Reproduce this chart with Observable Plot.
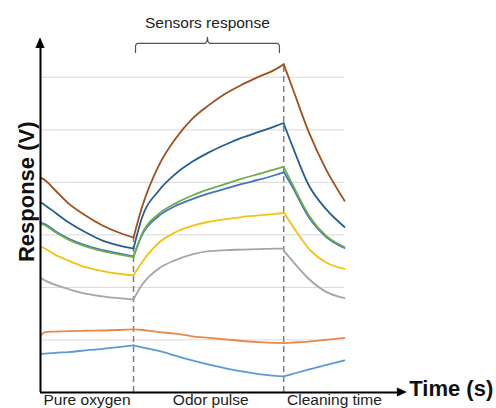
<!DOCTYPE html>
<html><head><meta charset="utf-8">
<script src="https://cdn.jsdelivr.net/npm/d3@7"></script>
<script src="https://cdn.jsdelivr.net/npm/@observablehq/plot@0.6"></script>
<style>body{margin:0;background:#fff;} #chart svg{display:block}</style>
</head><body><div id="chart"></div>
<script>
// Phase time points (arbitrary time units, 0..100)
const phaseTimes = [
  [0, 1.6, 4.9, 9.2, 14.8, 20.4, 25.7, 30.6],
  [30.6, 33.4, 38.9, 44.4, 49.9, 55.4, 60.9, 66.3, 71.8, 77.3, 80],
  [80, 82.8, 88.3, 93.8, 100]
];
const phaseNames = ["Pure oxygen", "Odor pulse", "Cleaning time"];
const phaseLabelT = [15.3, 56, 96.7];
const bracketT = [31.25, 54.9, 78.6];
const gridValues = [1, 2, 3, 4, 5, 6];
const yMax = 6.7;
const xArrowEnd = 120.7;

const seriesNames = ["S1", "S2", "S3", "S4", "S5", "S6", "S7", "S8"];
const seriesColors = ["#e8894a", "#5b9bd5", "#a5a5a5", "#f2c314", "#4472c4", "#70ad47", "#255e91", "#9e4f1e"];

// Values (V) per phase
const s1 = [ // orange
  [1.085, 1.15, 1.16, 1.17, 1.175, 1.18, 1.19, 1.20],
  [1.20, 1.19, 1.15, 1.12, 1.07, 1.04, 1.01, 0.98, 0.96, 0.945, 0.94],
  [0.94, 0.95, 0.97, 1.00, 1.04]
];
const s2 = [ // light blue
  [0.735, 0.74, 0.755, 0.77, 0.80, 0.83, 0.865, 0.895],
  [0.895, 0.86, 0.79, 0.70, 0.61, 0.53, 0.46, 0.40, 0.35, 0.315, 0.305],
  [0.305, 0.35, 0.44, 0.52, 0.61]
];
const s3 = [ // gray
  [2.19, 2.13, 2.05, 1.97, 1.88, 1.83, 1.795, 1.77],
  [1.77, 2.05, 2.36, 2.52, 2.63, 2.69, 2.71, 2.72, 2.73, 2.74, 2.74],
  [2.70, 2.51, 2.16, 1.92, 1.795]
];
const s4 = [ // yellow
  [2.78, 2.735, 2.62, 2.51, 2.385, 2.31, 2.26, 2.23],
  [2.23, 2.48, 2.85, 3.05, 3.17, 3.25, 3.30, 3.34, 3.37, 3.40, 3.42],
  [3.43, 3.18, 2.735, 2.48, 2.355]
];
const s5 = [ // blue
  [3.24, 3.20, 3.07, 2.93, 2.80, 2.71, 2.65, 2.59],
  [2.59, 3.00, 3.36, 3.55, 3.68, 3.79, 3.88, 3.97, 4.05, 4.14, 4.19],
  [4.20, 3.92, 3.33, 2.97, 2.75]
];
const s6 = [ // green
  [3.22, 3.18, 3.05, 2.91, 2.78, 2.69, 2.63, 2.575],
  [2.575, 3.02, 3.40, 3.60, 3.75, 3.87, 3.97, 4.07, 4.16, 4.25, 4.30],
  [4.29, 3.97, 3.37, 2.99, 2.77]
];
const s7 = [ // dark blue
  [3.62, 3.56, 3.42, 3.24, 3.05, 2.89, 2.80, 2.74],
  [2.74, 3.33, 3.84, 4.16, 4.39, 4.57, 4.72, 4.85, 4.96, 5.07, 5.13],
  [5.12, 4.70, 3.94, 3.50, 3.15]
];
const s8 = [ // brown
  [4.09, 4.035, 3.845, 3.60, 3.37, 3.18, 3.045, 2.95],
  [2.95, 3.53, 4.32, 4.83, 5.21, 5.47, 5.69, 5.86, 6.01, 6.15, 6.25],
  [6.25, 5.81, 4.95, 4.26, 3.65]
];
const allSeries = [s1, s2, s3, s4, s5, s6, s7, s8];

const rows = [];
allSeries.forEach((vals, si) => {
  vals.forEach((arr, p) => {
    arr.forEach((v, i) => rows.push({series: seriesNames[si], key: seriesNames[si] + "-" + p, t: phaseTimes[p][i], v}));
  });
});

// dashed phase boundaries up to the top curve
const boundaries = [phaseTimes[1][0], phaseTimes[2][0]].map(t => ({
  t, top: d3.max(rows.filter(r => r.t === t), r => r.v)
}));

// bracket over the odor phase
const [bl, bm, br] = bracketT;
const bracket = [
  {t: bl, v: 6.47}, {t: bl, v: 6.60}, {t: bl + 0.3, v: 6.635}, {t: bl + 0.8, v: 6.645},
  {t: bm - 0.7, v: 6.645}, {t: bm - 0.2, v: 6.68}, {t: bm, v: 6.76},
  {t: bm + 0.2, v: 6.68}, {t: bm + 0.7, v: 6.645},
  {t: br - 0.8, v: 6.645}, {t: br - 0.3, v: 6.635}, {t: br, v: 6.60}, {t: br, v: 6.47}
];

const upHead = [{v: 6.55, x1: -1.5, x2: 1.5}, {v: 6.75, x1: 0, x2: 0}];
const rightHead = [{t: xArrowEnd - 3.3, y1: -0.086, y2: 0.086}, {t: xArrowEnd, y1: 0, y2: 0}];

const chart = Plot.plot({
  width: 496, height: 408,
  marginLeft: 40, marginRight: 152, marginTop: 40, marginBottom: 16,
  x: {domain: [0, 100], axis: null},
  y: {domain: [0, yMax], axis: null},
  color: {domain: seriesNames, range: seriesColors},
  style: {fontFamily: "'Liberation Sans', Arial, sans-serif", background: "white", overflow: "visible"},
  marks: [
    Plot.ruleY(gridValues, {x1: 0, x2: 100, stroke: "#d9d9d9", strokeWidth: 1}),
    Plot.ruleX(boundaries, {x: "t", y1: 0, y2: "top", stroke: "#808080", strokeWidth: 1.5, strokeDasharray: "6,4"}),
    Plot.line(rows, {x: "t", y: "v", z: "key", stroke: "series", curve: "monotone-x", strokeWidth: 1.8}),
    Plot.ruleX([0], {y1: 0, y2: 6.6, stroke: "black", strokeWidth: 2}),
    Plot.ruleY([0], {x1: 0, x2: xArrowEnd - 2, stroke: "black", strokeWidth: 2}),
    Plot.areaX(upHead, {y: "v", x1: "x1", x2: "x2", fill: "black"}),
    Plot.areaY(rightHead, {x: "t", y1: "y1", y2: "y2", fill: "black"}),
    Plot.line(bracket, {x: "t", y: "v", stroke: "#555", strokeWidth: 1.2}),
    Plot.text(["Sensors response"], {x: bm, y: 6.93, text: d => d, fontSize: 15.5, lineAnchor: "bottom", fill: "#222"}),
    Plot.text(phaseNames, {x: (d, i) => phaseLabelT[i], y: -0.23, text: d => d, fontSize: 15.5, lineAnchor: "bottom", fill: "#222"}),
    Plot.text(["Time (s)"], {x: xArrowEnd + 0.6, y: -0.06, text: d => d, textAnchor: "start", fontSize: 22, fontWeight: "bold", lineAnchor: "bottom", fill: "#111"}),
    Plot.text(["Response (V)"], {x: -4.3, y: 3.82, text: d => d, rotate: -90, fontSize: 22, fontWeight: "bold", fill: "#111"})
  ]
});
document.getElementById("chart").appendChild(chart);
</script>
</body></html>
